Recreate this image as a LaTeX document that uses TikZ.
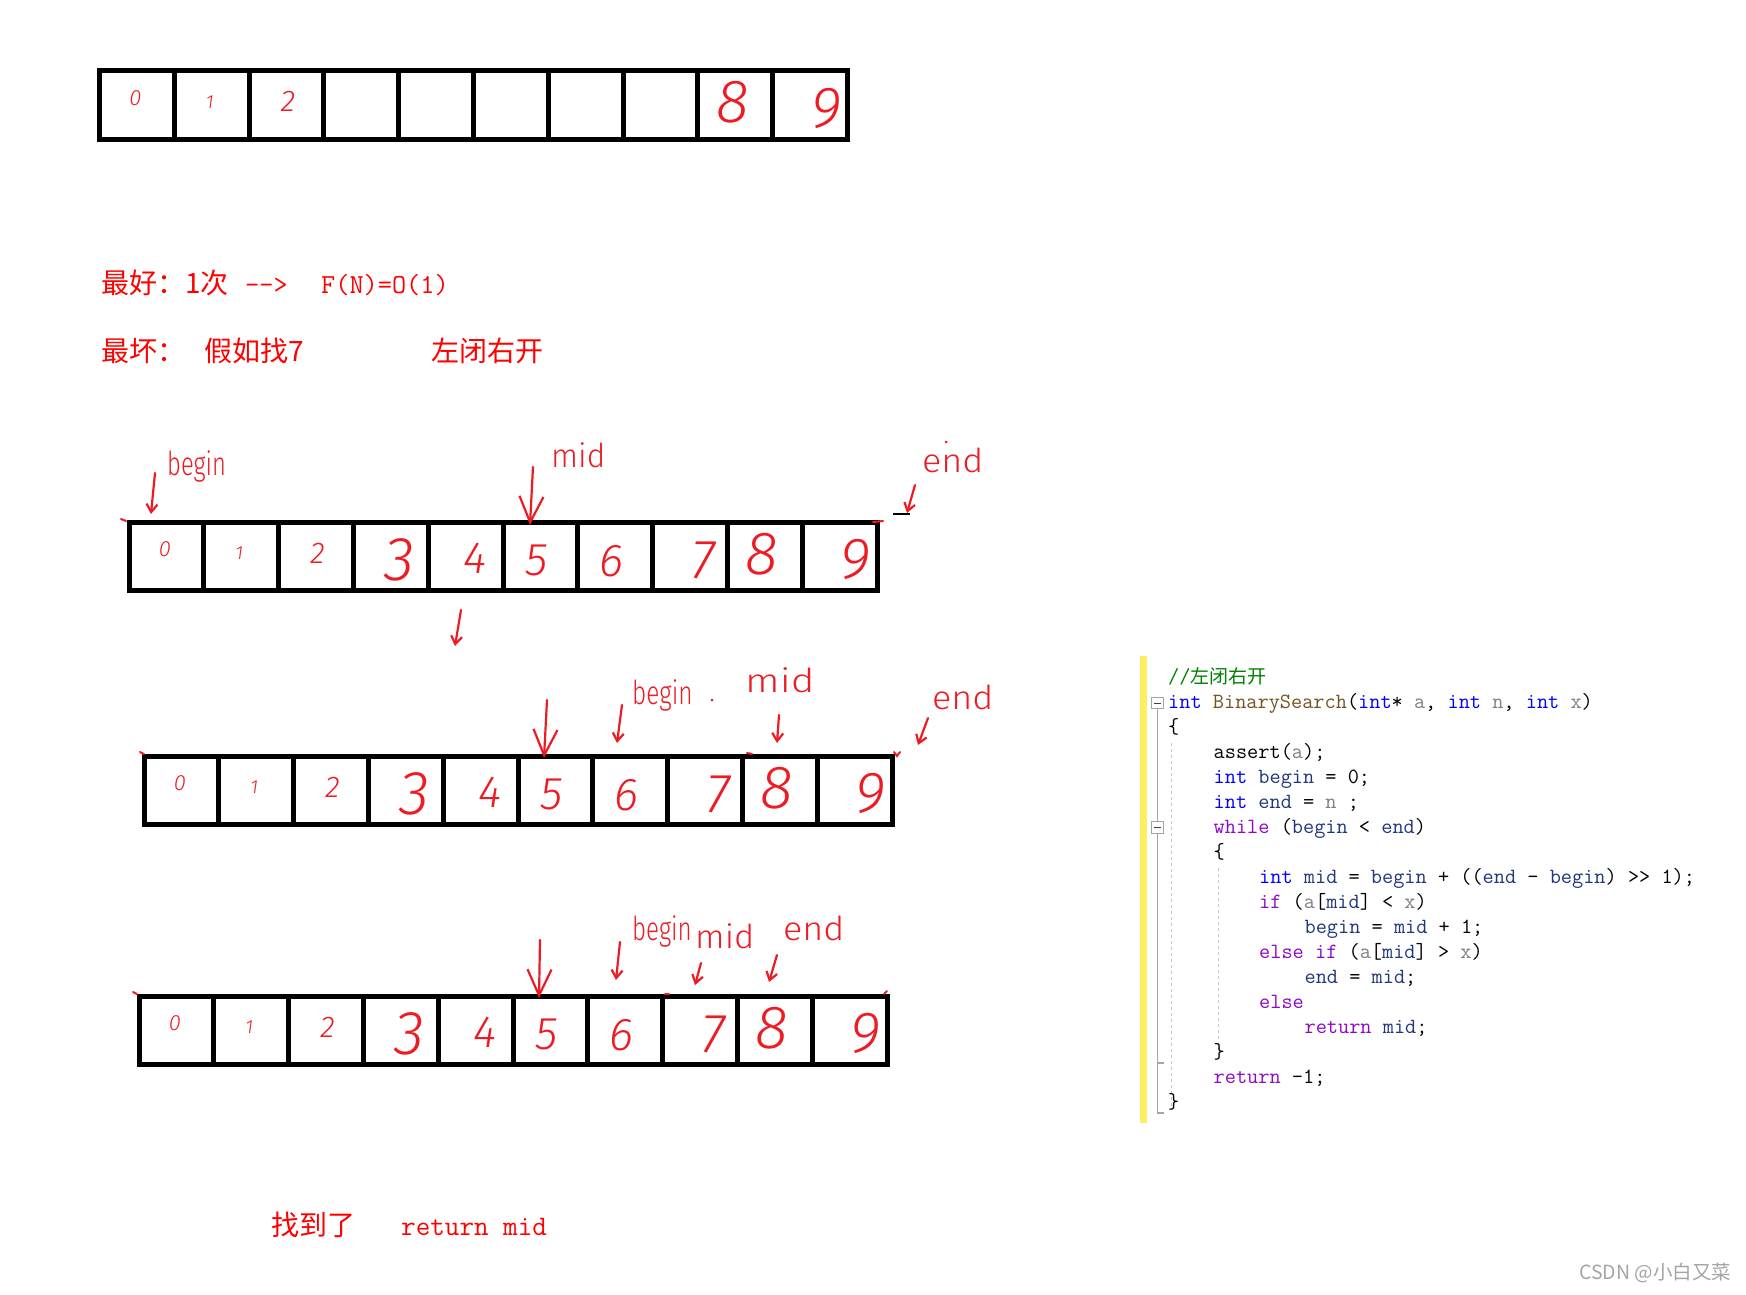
\documentclass[tikz,border=0pt]{standalone}
\usepackage{fontspec}
\setmonofont{Latin Modern Mono}
\newfontfamily\cjk{Noto Sans CJK SC}
\newfontfamily\handfont{Fira Sans Light}[ItalicFont={Fira Sans Light Italic}]
\usepackage{graphicx}
\usetikzlibrary{arrows.meta, positioning, calc}

\definecolor{paintred}{RGB}{237,28,36}
\definecolor{txtred}{RGB}{255,0,0}
\definecolor{vsblue}{RGB}{0,0,255}
\definecolor{vsfunc}{RGB}{116,83,31}
\definecolor{vsparam}{RGB}{128,128,128}
\definecolor{vslocal}{RGB}{31,55,127}
\definecolor{vsctrl}{RGB}{143,8,196}
\definecolor{vsgreen}{RGB}{0,128,0}
\definecolor{vsyellow}{RGB}{255,238,98}
\definecolor{vsguide}{RGB}{165,165,165}
\definecolor{wmgray}{RGB}{165,165,165}

% handwriting, squeezed sideways
\newcommand{\hw}[2]{\scalebox{#1}[1]{#2}}
% code colouring
\newcommand{\cdkw}[1]{\textcolor{vsblue}{#1}}
\newcommand{\cdfn}[1]{\textcolor{vsfunc}{#1}}
\newcommand{\cdpar}[1]{\textcolor{vsparam}{#1}}
\newcommand{\cdvar}[1]{\textcolor{vslocal}{#1}}
\newcommand{\cdctl}[1]{\textcolor{vsctrl}{#1}}
% digit / size / shift x / shift y
\newcommand{\digitsall}{0/22/-1.5/-7, 1/19/-2/-3, 2/30/1.5/-3, 3/62/9/4, 4/45/9.5/2,
  5/46/-4/4.5, 6/46/-3.5/4.5, 7/55/13/4.5, 8/61/-2.5/-2.5, 9/58/16/3.5}

\begin{document}
\begin{tikzpicture}[x=1pt, y=-1pt,
    cell/.style={draw=black, line width=5pt, minimum width=74.8pt,
      minimum height=68.5pt, inner sep=0pt, outer sep=0pt},
    digit/.style={text=paintred, inner sep=0pt},
    hand/.style={text=paintred, inner sep=0pt, anchor=base west,
      font=\handfont\fontsize{33}{33}\selectfont},
    handarrow/.style={draw=paintred, line width=2.2pt, line cap=round,
      -{Straight Barb[length=8pt, width=11pt]}},
    bigarrow/.style={handarrow, -{Straight Barb[length=26pt, width=24pt]}},
    stray/.style={draw=paintred, line width=2pt, line cap=round},
    note/.style={text=txtred, inner sep=0pt, anchor=base west},
    cjknote/.style={note, font=\cjk\fontsize{28}{28}\selectfont},
    ttnote/.style={note, font=\ttfamily\fontsize{27.5}{28}\selectfont},
    code/.style={inner sep=0pt, anchor=base west,
      font=\ttfamily\fontsize{21.7}{25}\selectfont},
    foldbox/.style={draw=vsguide, fill=white, line width=1pt, minimum size=11.5pt,
      inner sep=0pt, path picture={\draw[black!75, line width=1pt]
        ([xshift=2.5pt]path picture bounding box.west) --
        ([xshift=-2.5pt]path picture bounding box.east);}},
    foldline/.style={draw=vsguide, line width=1.2pt},
    indentguide/.style={draw=black!22, line width=1pt, dash pattern=on 3pt off 3pt}
  ]
  \fill[white] (0,0) rectangle (1746,1294);
  \useasboundingbox (0,0) rectangle (1746,1294);

  % ---- the four arrays ----
  \foreach \arr/\lx/\ty in {A/99.5/70.5, B/129/522, C/144/756, D/139/996}
    \foreach \i in {0,...,9}
      \node[cell] (\arr\i) at ({\lx+74.8*(\i+0.5)}, {\ty+34.25}) {};

  \foreach \d/\s/\dx/\dy in {0/22/-1.5/-7, 1/19/-2/-3, 2/30/1.5/-3, 8/61/-2.5/-2.5, 9/58/16/3.5}
    \node[digit, font=\handfont\itshape\fontsize{\s}{\s}\selectfont] (Ad\d)
      at ($(A\d)+(\dx,\dy)$) {\d};
  \foreach \arr in {B,C,D}
    \foreach \d/\s/\dx/\dy in \digitsall
      \node[digit, font=\handfont\itshape\fontsize{\s}{\s}\selectfont] (\arr d\d)
        at ($(\arr\d)+(\dx,\dy)$) {\d};

  % ---- red notes ----
  \node[cjknote] (best)     at (101,293)  {最好：1次};
  \node[ttnote]  (bestarr)  at (245,293)  {-{}-{}>};
  \node[ttnote]  (bigo)     at (321,293)  {F(N)=O(1)};
  \node[cjknote] (worst)    at (101,361)  {最坏：};
  \node[cjknote] (find7)    at (204,361)  {假如找7};
  \node[cjknote] (halfopen) at (431,361)  {左闭右开};
  \node[cjknote] (found)    at (271,1235) {找到了};
  \node[ttnote, font=\ttfamily\fontsize{28.3}{28}\selectfont] (retmid) at (401,1235) {return mid};

  % ---- handwritten pointers ----
  \node[hand] (Bbegin) at (167,475) {\hw{0.72}{begin}};
  \node[hand] (Bmid)   at (551,467) {\hw{0.96}{mid}};
  \node[hand] (Bend)   at (922,472) {\hw{1.09}{end}};
  \node[hand] (Cbegin) at (632,704) {\hw{0.74}{begin}};
  \node[hand] (Cmid)   at (745,692) {\hw{1.23}{mid}};
  \node[hand] (Cend)   at (932,709) {\hw{1.09}{end}};
  \node[hand] (Dbegin) at (632,940) {\hw{0.73}{begin}};
  \node[hand] (Dmid)   at (695,948) {\hw{1.05}{mid}};
  \node[hand] (Dend)   at (783,940) {\hw{1.09}{end}};

  \foreach \nm/\tx/\ty/\hx/\hy in {Bb/155/473/151/514, Be/915/485/907/513,
      Bdown/461/610/455/646, Cb/622/705/617/743, Cm/779/715/777/743,
      Ce/928/718/918/745, Db/620/942/616/980, Dm/701/963/695/985, De/777/955/769/982} {
    \coordinate (\nm t) at (\tx,\ty);
    \coordinate (\nm h) at (\hx,\hy);
    \draw[handarrow] (\nm t) -- (\nm h);
  }
  \foreach \nm/\tx/\ty/\hx/\hy in {Bm/533/467/530/525, C5/547/700/544/758, D5/540/940/539/998} {
    \coordinate (\nm t) at (\tx,\ty);
    \coordinate (\nm h) at (\hx,\hy);
    \draw[bigarrow] (\nm t) -- (\nm h);
  }
  \draw[black, line width=1.5pt] (893,514) -- (910,514);
  % stray marks left by the pen
  \draw[stray] (121,519) -- (126,521) (873,522) -- (883,521)
    (140,752) -- (144,754) (747,753) -- (752,754) (894,752) -- (897,756) -- (900,752)
    (133,992) -- (137,994) (665,994) -- (669,994) (884,994) -- (887,991);
  \fill[paintred] (946,442) circle (1.5) (712,700) circle (1.5);

  % ---- code panel ----
  \fill[vsyellow] (1140,656) rectangle (1146.7,1123);
  \node[foldbox] (fold1) at (1157.7,703) {};
  \node[foldbox] (fold2) at (1157.7,827.5) {};
  \coordinate (foldend) at (1157.7,1113);
  \draw[foldline] (fold1.south) -- (fold2.north);
  \draw[foldline] (fold2.south) -- (foldend) -- ++(6.5,0);
  \draw[foldline] (1157.7,1063) -- ++(6.5,0);
  \draw[indentguide] (1171,743) -- (1171,1110);
  \draw[indentguide] (1218,868) -- (1218,1050);

  \node[code] (l1)  at (1168,683)    {\textcolor{vsgreen}{//{\cjk\fontsize{19}{19}\selectfont 左闭右开}}};
  \node[code] (l2)  at (1168,708)    {\cdkw{int} \cdfn{BinarySearch}(\cdkw{int}* \cdpar{a}, \cdkw{int} \cdpar{n}, \cdkw{int} \cdpar{x})};
  \node[code] (l3)  at (1168,733)    {\{};
  \node[code] (l4)  at (1213.5,758)  {assert(\cdpar{a});};
  \node[code] (l5)  at (1213.5,783)  {\cdkw{int} \cdvar{begin} = 0;};
  \node[code] (l6)  at (1213.5,808)  {\cdkw{int} \cdvar{end} = \cdpar{n} ;};
  \node[code] (l7)  at (1213.5,833)  {\cdctl{while} (\cdvar{begin} < \cdvar{end})};
  \node[code] (l8)  at (1213.5,858)  {\{};
  \node[code] (l9)  at (1259,883)    {\cdkw{int} \cdvar{mid} = \cdvar{begin} + ((\cdvar{end} - \cdvar{begin}) >> 1);};
  \node[code] (l10) at (1259,908)    {\cdctl{if} (\cdpar{a}[\cdvar{mid}] < \cdpar{x})};
  \node[code] (l11) at (1304.4,933)  {\cdvar{begin} = \cdvar{mid} + 1;};
  \node[code] (l12) at (1259,958)    {\cdctl{else} \cdctl{if} (\cdpar{a}[\cdvar{mid}] > \cdpar{x})};
  \node[code] (l13) at (1304.4,983)  {\cdvar{end} = \cdvar{mid};};
  \node[code] (l14) at (1259,1008)   {\cdctl{else}};
  \node[code] (l15) at (1304.4,1033) {\cdctl{return} \cdvar{mid};};
  \node[code] (l16) at (1213.5,1058) {\}};
  \node[code] (l17) at (1213.5,1083) {\cdctl{return} -1;};
  \node[code] (l18) at (1168,1108)   {\}};

  \node[anchor=base west, inner sep=0pt, text=wmgray, font=\cjk\fontsize{19.5}{19.5}\selectfont]
    (csdn) at (1579,1279) {CSDN @小白又菜};
\end{tikzpicture}
\end{document}
